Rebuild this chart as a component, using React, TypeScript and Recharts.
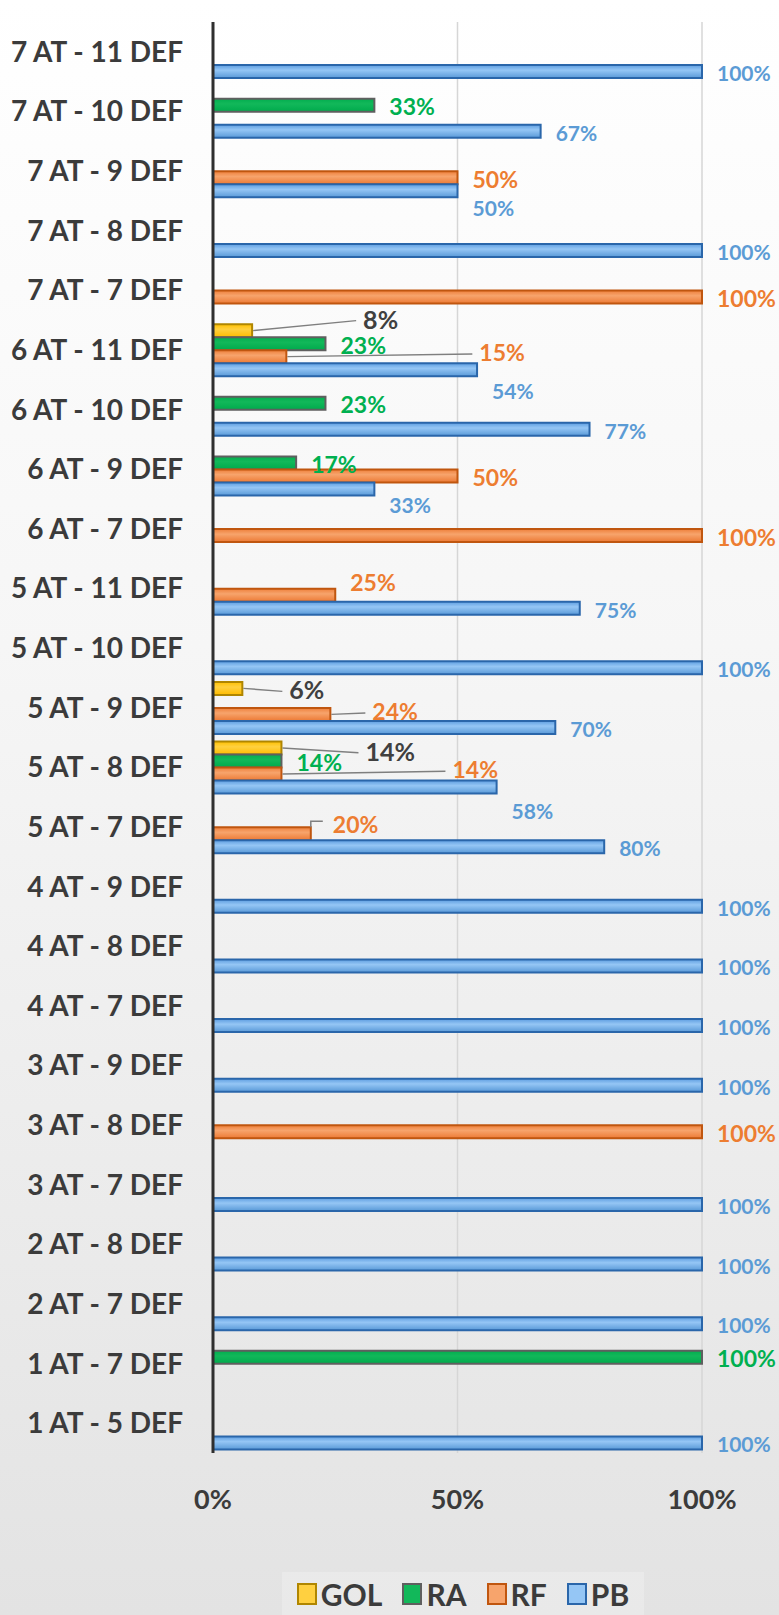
import React from 'react';
import { BarChart, Bar, XAxis, YAxis, CartesianGrid, LabelList, Legend } from 'recharts';

const categories = [
  '7 AT - 11 DEF', '7 AT - 10 DEF', '7 AT - 9 DEF', '7 AT - 8 DEF', '7 AT - 7 DEF',
  '6 AT - 11 DEF', '6 AT - 10 DEF', '6 AT - 9 DEF', '6 AT - 7 DEF',
  '5 AT - 11 DEF', '5 AT - 10 DEF', '5 AT - 9 DEF', '5 AT - 8 DEF', '5 AT - 7 DEF',
  '4 AT - 9 DEF', '4 AT - 8 DEF', '4 AT - 7 DEF',
  '3 AT - 9 DEF', '3 AT - 8 DEF', '3 AT - 7 DEF',
  '2 AT - 8 DEF', '2 AT - 7 DEF',
  '1 AT - 7 DEF', '1 AT - 5 DEF',
];
const golValues = [0, 0, 0, 0, 0, 8, 0, 0, 0, 0, 0, 6, 14, 0, 0, 0, 0, 0, 0, 0, 0, 0, 0, 0];
const raValues = [0, 33, 0, 0, 0, 23, 23, 17, 0, 0, 0, 0, 14, 0, 0, 0, 0, 0, 0, 0, 0, 0, 100, 0];
const rfValues = [0, 0, 50, 0, 100, 15, 0, 50, 100, 25, 0, 24, 14, 20, 0, 0, 0, 0, 100, 0, 0, 0, 0, 0];
const pbValues = [100, 67, 50, 100, 0, 54, 77, 33, 0, 75, 100, 70, 58, 80, 100, 100, 100, 100, 0, 100, 100, 100, 0, 100];
const xTicks = [0, 50, 100];
const seriesNames = ['GOL', 'RA', 'RF', 'PB'];
const seriesValues: Record<string, number[]> = { GOL: golValues, RA: raValues, RF: rfValues, PB: pbValues };

const data = categories.map((name, i) => ({
  name,
  GOL: golValues[i],
  RA: raValues[i],
  RF: rfValues[i],
  PB: pbValues[i],
}));

const FONT = 'Lato, "Open Sans", sans-serif';
const TEXT = '#3b3b3b';

const styles: Record<string, { grad: string; stroke: string; label: string; size: number; stops: string[] }> = {
  GOL: { grad: 'gGol', stroke: '#b08600', label: '#404040', size: 25, stops: ['#ffc000', '#ffd040', '#ffbc00'] },
  RA: { grad: 'gRa', stroke: '#5f5f5f', label: '#00b050', size: 23, stops: ['#03ad4e', '#12b85a', '#00aa4c'] },
  RF: { grad: 'gRf', stroke: '#c0560f', label: '#ed7d31', size: 23, stops: ['#ee7f3a', '#f7a46c', '#ec7a35'] },
  PB: { grad: 'gPb', stroke: '#2a66aa', label: '#5b9bd5', size: 21, stops: ['#5d9de0', '#95c6f5', '#5a9ad8'] },
};

// Manual data-label placement (Excel-style moved labels), keyed by category name
type Adj = { dx: number; dy: number; leader?: 'line' | 'elbow' };
const labelAdjust: Record<string, Record<string, Adj>> = {
  GOL: {
    '6 AT - 11 DEF': { dx: 96, dy: -13, leader: 'line' },
    '5 AT - 9 DEF': { dx: 32, dy: 0, leader: 'line' },
    '5 AT - 8 DEF': { dx: 69, dy: 1.7, leader: 'line' },
  },
  RA: {},
  RF: {
    '6 AT - 11 DEF': { dx: 178, dy: -5.6, leader: 'line' },
    '5 AT - 11 DEF': { dx: 0, dy: -14.5 },
    '5 AT - 9 DEF': { dx: 27, dy: -4.3, leader: 'line' },
    '5 AT - 8 DEF': { dx: 156, dy: -5.7, leader: 'line' },
    '5 AT - 7 DEF': { dx: 7, dy: -10.4, leader: 'elbow' },
  },
  PB: {
    '7 AT - 9 DEF': { dx: 0, dy: 15.5 },
    '6 AT - 11 DEF': { dx: 0, dy: 20 },
    '6 AT - 9 DEF': { dx: 0, dy: 15 },
    '5 AT - 8 DEF': { dx: 0, dy: 22 },
  },
};

const categoryOfLabel = (key: string, index: number, value: any): string => {
  const vals = seriesValues[key];
  const nonZero = vals.map((v, i) => (v ? i : -1)).filter((i) => i >= 0);
  const ci = nonZero[index];
  if (ci !== undefined && vals[ci] === Number(value)) return categories[ci];
  const alt = vals[index];
  if (alt === Number(value)) return categories[index];
  return categories[ci] ?? '';
};

const makeLabel = (key: string) => (props: any) => {
  const { x, y, width, height, value, index } = props;
  if (!value) return null;
  const st = styles[key];
  const cat = props.payload?.name ?? categoryOfLabel(key, index, value);
  const adj: Adj = labelAdjust[key][cat] || { dx: 0, dy: 0 };
  const endX = Number(x) + Number(width);
  const cy = Number(y) + Number(height) / 2;
  const lx = endX + 15 + adj.dx;
  const ly = cy + 1 + adj.dy;
  let leader: any = null;
  if (adj.leader === 'line') {
    leader = <line x1={endX + 1} y1={cy} x2={lx - 7} y2={ly + 2} stroke="#7f7f7f" strokeWidth={1.5} />;
  } else if (adj.leader === 'elbow') {
    const top = Number(y);
    leader = (
      <polyline
        points={`${endX},${top} ${endX},${top - 6} ${endX + 12},${top - 6}`}
        fill="none"
        stroke="#7f7f7f"
        strokeWidth={1.5}
      />
    );
  }
  return (
    <g>
      {leader}
      <text x={lx} y={ly} fill={st.label} fontSize={st.size} fontWeight="bold" fontFamily={FONT} dominantBaseline="central">
        {value}%
      </text>
    </g>
  );
};

const YTick = (props: any) => {
  const { x, y, payload } = props;
  return (
    <text x={x} y={y - 1} textAnchor="end" dominantBaseline="central" fill={TEXT} fontSize={28} fontWeight="bold" fontFamily={FONT}>
      {payload.value}
    </text>
  );
};

const XTick = (props: any) => {
  const { x, y, payload } = props;
  return (
    <text x={x} y={y} textAnchor="middle" dominantBaseline="central" fill={TEXT} fontSize={27} fontWeight="bold" fontFamily={FONT}>
      {payload.value}%
    </text>
  );
};

const renderLegend = () => (
  <div
    style={{
      display: 'flex',
      alignItems: 'center',
      justifyContent: 'center',
      height: '100%',
      background: 'rgba(255,255,255,0.22)',
      fontFamily: FONT,
      fontWeight: 'bold',
      fontSize: 30,
      color: TEXT,
    }}
  >
    {seriesNames.map((n) => (
      <div key={n} style={{ display: 'flex', alignItems: 'center', margin: '0 10px' }}>
        <span
          style={{
            display: 'inline-block',
            width: 16,
            height: 18,
            background: styles[n].stops[1],
            border: `2px solid ${styles[n].stroke}`,
            marginRight: 4,
          }}
        />
        <span>{n}</span>
      </div>
    ))}
  </div>
);

export default function App() {
  return (
    <div
      style={{
        position: 'absolute',
        left: 0,
        top: 0,
        width: 779,
        height: 1615,
        background: 'linear-gradient(to bottom, #ffffff 0%, #f6f6f6 40%, #ebebeb 75%, #e3e3e3 100%)',
        overflow: 'hidden',
      }}
    >
      <BarChart
        width={779}
        height={1615}
        data={data}
        layout="vertical"
        margin={{ top: 22, right: 77, left: 13, bottom: 59 }}
        barCategoryGap={4}
        barGap={0}
      >
        <defs>
          {seriesNames.map((n) => (
            <linearGradient key={n} id={styles[n].grad} x1="0" y1="0" x2="0" y2="1">
              <stop offset="0%" stopColor={styles[n].stops[0]} />
              <stop offset="40%" stopColor={styles[n].stops[1]} />
              <stop offset="100%" stopColor={styles[n].stops[2]} />
            </linearGradient>
          ))}
        </defs>
        <CartesianGrid horizontal={false} vertical stroke="#d6d6d6" strokeWidth={1.5} />
        <XAxis
          type="number"
          domain={[0, 100]}
          ticks={xTicks}
          axisLine={false}
          tickLine={false}
          tickSize={0}
          tickMargin={45}
          height={60}
          tick={<XTick />}
          interval={0}
        />
        <YAxis
          type="category"
          dataKey="name"
          width={200}
          axisLine={{ stroke: '#2f2f2f', strokeWidth: 3 }}
          tickLine={false}
          tickSize={0}
          tickMargin={30}
          tick={<YTick />}
          interval={0}
        />
        {seriesNames.map((n) => (
          <Bar
            key={n}
            dataKey={n}
            fill={`url(#${styles[n].grad})`}
            stroke={styles[n].stroke}
            strokeWidth={2}
            isAnimationActive={false}
          >
            <LabelList dataKey={n} content={makeLabel(n)} />
          </Bar>
        ))}
        <Legend
          verticalAlign="bottom"
          content={renderLegend}
          wrapperStyle={{ position: 'absolute', left: 282, top: 1572, width: 362, height: 43 }}
        />
      </BarChart>
    </div>
  );
}
